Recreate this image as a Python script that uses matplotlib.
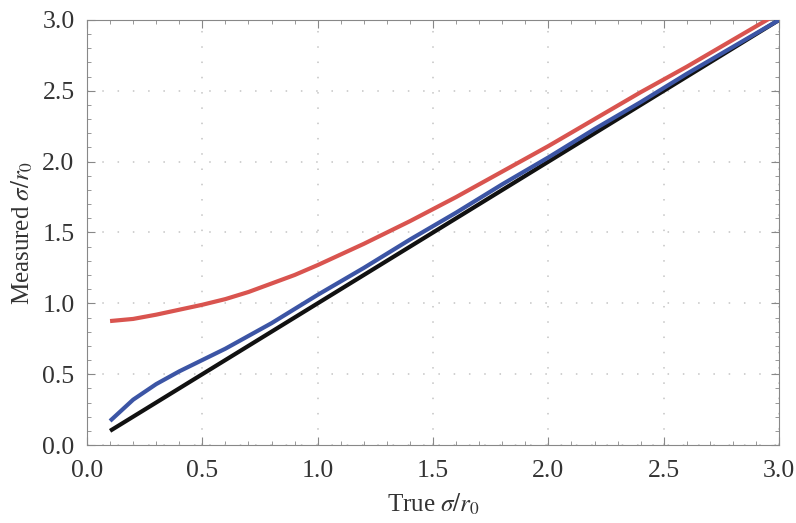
import numpy as np
import matplotlib
matplotlib.use('Agg')
import matplotlib.pyplot as plt
from matplotlib.ticker import MultipleLocator

plt.rcParams['font.family'] = ['Liberation Serif', 'DejaVu Serif']
plt.rcParams['mathtext.fontset'] = 'stix'

# true sigma / r0
x_true = [0.1, 0.2, 0.3, 0.4, 0.5, 0.6, 0.7, 0.8, 0.9, 1.0, 1.2, 1.4, 1.6,
          1.8, 2.0, 2.2, 2.4, 2.6, 2.8, 3.0]
# measured, no correction (red)
y_red = [0.875, 0.89, 0.92, 0.955, 0.99, 1.03, 1.08, 1.14, 1.20, 1.27, 1.42,
         1.58, 1.75, 1.93, 2.11, 2.30, 2.49, 2.67, 2.86, 3.05]
# measured, corrected (blue)
y_blue = [0.17, 0.32, 0.43, 0.52, 0.60, 0.68, 0.77, 0.86, 0.96, 1.06, 1.25,
          1.45, 1.64, 1.84, 2.03, 2.23, 2.42, 2.62, 2.81, 3.0]
# ideal (black)
y_black = x_true

fig = plt.figure(figsize=(7.96, 5.23), dpi=100)
ax = fig.add_axes([0.1093, 0.1491, 0.8694, 0.8127])

ax.plot(x_true, y_black, color='#111111', lw=3.0, solid_capstyle='butt', zorder=3)
ax.plot(x_true, y_blue, color='#3c55a5', lw=3.0, solid_capstyle='butt', zorder=4)
ax.plot(x_true, y_red, color='#d9544f', lw=3.0, solid_capstyle='butt', zorder=5)

ax.set_xlim(0, 3)
ax.set_ylim(0, 3)
ax.xaxis.set_major_locator(MultipleLocator(0.5))
ax.yaxis.set_major_locator(MultipleLocator(0.5))
ax.xaxis.set_minor_locator(MultipleLocator(0.1))
ax.yaxis.set_minor_locator(MultipleLocator(0.1))
ax.xaxis.set_major_formatter(plt.FormatStrFormatter('%.1f'))
ax.yaxis.set_major_formatter(plt.FormatStrFormatter('%.1f'))

ax.grid(True, which='major', color='#c4c4c4', linestyle=(0, (1, 9)), lw=1.1)
ax.tick_params(which='both', direction='in', top=True, right=True,
               color='#888888', labelsize=18.5, labelcolor='#333333')
ax.tick_params(which='major', length=6, width=0.8)
ax.tick_params(axis='x', which='major', pad=11)
ax.tick_params(axis='y', which='major', pad=9)
ax.tick_params(which='minor', length=3, width=0.6)
for s in ax.spines.values():
    s.set_color('#888888')
    s.set_linewidth(0.8)

ax.set_xlabel(r'True $\sigma/r_0$', fontsize=18, color='#333333', labelpad=7)
ax.set_ylabel(r'Measured $\sigma/r_0$', fontsize=18, color='#333333', labelpad=5)

fig.savefig('out.png', dpi=100)
